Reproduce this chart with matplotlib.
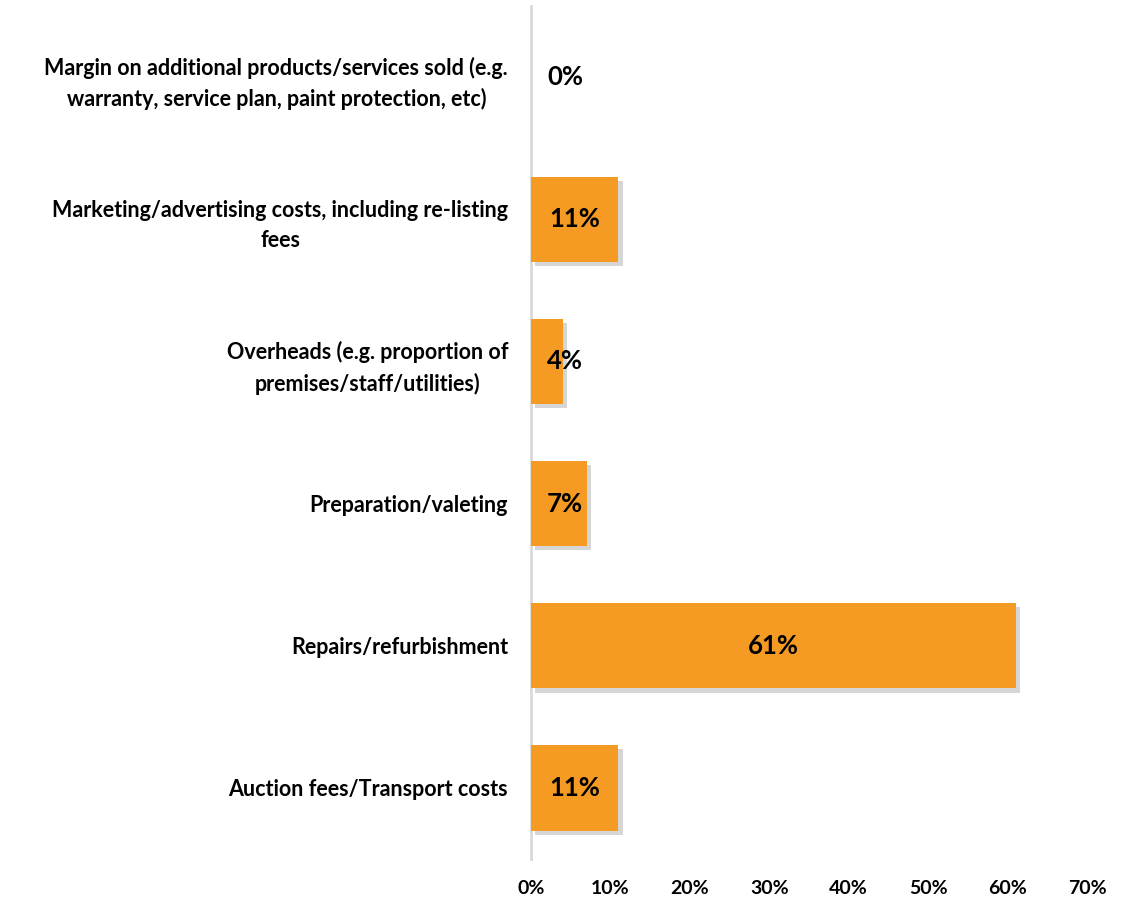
import matplotlib
matplotlib.use("Agg")
import matplotlib.pyplot as plt
import matplotlib.patheffects as pe
from matplotlib.ticker import FuncFormatter

categories = [
    "Auction fees/Transport costs",
    "Repairs/refurbishment",
    "Preparation/valeting",
    "Overheads (e.g. proportion of\npremises/staff/utilities)",
    "Marketing/advertising costs, including re-listing\nfees",
    "Margin on additional products/services sold (e.g.\nwarranty, service plan, paint protection, etc)",
]
values = [11, 61, 7, 4, 11, 0]
xticks = [0, 10, 20, 30, 40, 50, 60, 70]

plt.rcParams['font.family'] = ['Lato', 'DejaVu Sans']

fig = plt.figure(figsize=(11.32, 9.01), dpi=100)
ax = fig.add_axes([531/1132, 1 - 859/901, (1087 - 531)/1132, (859 - 6)/901])

ypos = list(range(len(categories)))
bars = ax.barh(ypos, values, height=0.6, color="#F59A23", zorder=3)
for b in bars:
    b.set_path_effects([pe.SimplePatchShadow(offset=(3, -3), shadow_rgbFace="#8a8a8a", alpha=0.35),
                        pe.Normal()])

for y, v in zip(ypos, values):
    ax.text(max(v / 2, 4.3), y, f"{v}%", ha="center", va="center",
            fontsize=18.5, fontweight="bold", color="black", zorder=4)

ax.set_xlim(0, 70)
ax.set_ylim(-0.5, len(categories) - 0.5)
ax.set_yticks(ypos)
ax.set_yticklabels(categories, fontsize=15.5, fontweight="bold",
                   multialignment="center", linespacing=1.5)
ax.set_xticks(xticks)
ax.xaxis.set_major_formatter(FuncFormatter(lambda x, p: f"{int(x)}%"))
for lab in ax.get_xticklabels():
    lab.set_fontweight("bold")
    lab.set_fontsize(14)
ax.tick_params(axis="y", length=0, pad=16.5)
ax.tick_params(axis="x", length=0, pad=15)

for s in ["top", "right", "bottom"]:
    ax.spines[s].set_visible(False)
ax.spines["left"].set_color("#d9d9d9")
ax.spines["left"].set_linewidth(2)

fig.savefig("out.png", dpi=100, facecolor="white")
